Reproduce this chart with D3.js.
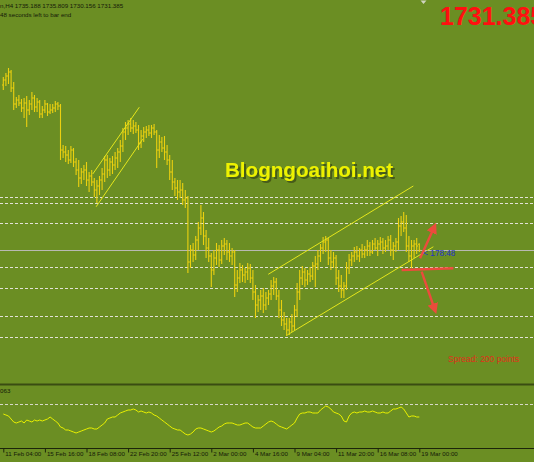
<!DOCTYPE html>
<html>
<head>
<meta charset="utf-8">
<script src="https://cdn.jsdelivr.net/npm/d3@7"></script>
<style>
  body { margin: 0; background: #6b8e23; overflow: hidden; }
  svg { display: block; }
</style>
</head>
<body>
<div id="chart"></div>
<script>
// XAUUSD H4 bars, index 0 = 11 Feb 04:00
const barOpen = [1838.75,1842,1844.6,1847.2,1836.8,1826.4,1829,1827.05,1823.8,1827.05,1822.5,1826.4,1830.3,1824.45,1827.7,1819.9,1822.5,1826.4,1821.2,1822.5,
  1823.8,1826.4,1825.1,1796.5,1795.2,1793.25,1790,1796.5,1788.7,1783.5,1778.3,1782.2,1783.5,1777,1779.6,1775.7,1770.5,1773.1,1777,1780.9,
  1790,1783.5,1788.7,1786.75,1791.3,1795.2,1799.1,1808.2,1810.8,1813.4,1810.8,1812.1,1809.5,1801.05,1805.6,1808.2,1809.5,1807.55,1810.8,1808.2,
  1796.5,1801.7,1797.8,1795.2,1790,1782.2,1775.7,1771.8,1769.2,1770.5,1764,1765.3,1723.7,1731.5,1728.25,1738,1745.8,1752.3,1740.6,1732.8,
  1727.6,1718.5,1726.3,1731.5,1725,1734.1,1735.4,1730.2,1727.6,1730.2,1708.75,1713.3,1718.5,1715.25,1717.2,1719.8,1713.3,1704.2,1695.75,1699,
  1701.6,1695.75,1700.3,1702.9,1708.1,1710.7,1701.6,1692.5,1686,1683.4,1679.5,1684.7,1682.1,1692.5,1704.2,1713.3,1717.2,1712,1715.9,1714.6,
  1721.1,1722.4,1727.6,1732.8,1736.7,1738,1726.3,1723.7,1726.3,1713.3,1708.1,1705.5,1708.1,1719.8,1725,1727.6,1730.2,1727.6,1731.5,1728.9,
  1731.5,1734.1,1730.2,1735.4,1732.8,1735.4,1736.7,1732.8,1734.1,1738,1731.5,1734.1,1736.7,1747.1,1749.7,1745.8,1734.1,1727.6,1734.1,1735.4,
  1735.19]
const barHigh = [1843.95,1846.55,1849.8,1848.5,1840.7,1830.95,1832.25,1829.65,1830.3,1831.6,1829,1834.2,1832.25,1830.3,1829,1825.1,1829,1827.05,1826.4,1826.4,
  1828.35,1827.7,1826.4,1799.75,1799.1,1796.5,1799.1,1797.8,1791.3,1790,1784.8,1786.75,1788.7,1782.2,1783.5,1778.3,1777,1779.6,1784.8,1792.6,
  1793.25,1791.3,1792.6,1795.2,1797.8,1803,1810.8,1814.7,1816,1817.3,1816,1814.7,1812.75,1809.5,1811.45,1812.1,1812.75,1812.75,1813.4,1809.5,
  1806.25,1804.95,1805.6,1799.75,1793.25,1790,1778.3,1777,1777,1775.05,1770.5,1766.6,1734.75,1736.05,1740.6,1749.7,1760.75,1756.2,1744.5,1739.3,
  1729.55,1731.5,1736.05,1734.75,1738,1739.3,1738,1736.05,1732.8,1731.5,1718.5,1723.05,1721.75,1719.8,1723.05,1722.4,1718.5,1708.75,1702.25,1705.5,
  1706.8,1704.2,1705.5,1712,1713.95,1713.3,1705.5,1699,1691.2,1687.3,1687.3,1689.9,1695.75,1710.05,1718.5,1721.1,1719.8,1718.5,1720.45,1723.7,
  1727.6,1731.5,1735.4,1739.95,1740.6,1739.3,1731.5,1730.2,1728.25,1718.5,1715.25,1710.7,1723.7,1728.9,1730.2,1733.45,1734.1,1732.8,1735.4,1734.1,
  1738,1736.7,1738,1739.3,1738,1739.95,1739.3,1738,1740.6,1741.25,1736.7,1739.3,1752.3,1753.6,1756.2,1754.25,1740.6,1738,1738,1739.3,
  1735.81]
const barLow = [1835.5,1838.1,1839.4,1834.2,1822.5,1823.8,1825.1,1821.2,1817.3,1811.45,1819.25,1822.5,1821.2,1821.2,1817.3,1817.3,1820.55,1818.6,1819.9,1820.55,
  1821.2,1822.5,1790,1791.3,1788.7,1787.4,1788.05,1785.45,1780.25,1772.45,1774.4,1777,1773.1,1769.2,1773.1,1765.95,1762.05,1767.25,1770.5,1775.7,
  1778.3,1779.6,1780.9,1783.5,1784.8,1788.7,1795.2,1803,1806.25,1808.2,1806.9,1807.55,1796.5,1797.8,1801.7,1804.3,1805.6,1804.3,1806.25,1784.8,
  1791.3,1795.2,1790,1786.75,1777,1770.5,1766.6,1764,1765.3,1760.75,1758.8,1716.55,1719.8,1723.7,1725,1731.5,1741.25,1734.75,1726.3,1723.7,
  1707.45,1715.25,1721.75,1720.45,1722.4,1728.25,1725,1723.7,1721.75,1700.95,1704.2,1710.05,1710.7,1710.05,1712,1710.05,1699,1687.3,1691.2,1692.5,
  1690.55,1692.5,1695.75,1699,1702.25,1699,1687.3,1682.1,1679.5,1675.6,1676.25,1678.2,1679.5,1687.95,1699,1708.75,1707.45,1708.75,1710.7,1712,
  1707.45,1718.5,1723.7,1728.9,1730.2,1721.75,1718.5,1719.8,1708.75,1704.2,1700.3,1700.3,1705.5,1715.9,1721.1,1723.7,1725,1723.7,1726.3,1726.3,
  1727.6,1727.6,1728.9,1731.5,1727.6,1731.5,1728.9,1730.2,1731.5,1727.6,1725,1730.2,1731.5,1740.6,1743.2,1730.2,1723.7,1719.8,1726.3,1728.9,
  1730.16]
const barClose = [1842,1844.6,1847.2,1836.8,1826.4,1829,1827.05,1823.8,1827.05,1822.5,1826.4,1830.3,1824.45,1827.7,1819.9,1822.5,1826.4,1821.2,1822.5,1823.8,
  1826.4,1825.1,1796.5,1795.2,1793.25,1790,1796.5,1788.7,1783.5,1778.3,1782.2,1783.5,1777,1779.6,1775.7,1770.5,1773.1,1777,1780.9,1790,
  1783.5,1788.7,1786.75,1791.3,1795.2,1799.1,1808.2,1810.8,1813.4,1810.8,1812.1,1809.5,1801.05,1805.6,1808.2,1809.5,1807.55,1810.8,1808.2,1796.5,
  1801.7,1797.8,1795.2,1790,1782.2,1775.7,1771.8,1769.2,1770.5,1764,1765.3,1723.7,1731.5,1728.25,1738,1745.8,1752.3,1740.6,1732.8,1727.6,
  1718.5,1726.3,1731.5,1725,1734.1,1735.4,1730.2,1727.6,1730.2,1708.75,1713.3,1718.5,1715.25,1717.2,1719.8,1713.3,1704.2,1695.75,1699,1701.6,
  1695.75,1700.3,1702.9,1708.1,1710.7,1701.6,1692.5,1686,1683.4,1679.5,1684.7,1682.1,1692.5,1704.2,1713.3,1717.2,1712,1715.9,1714.6,1721.1,
  1722.4,1727.6,1732.8,1736.7,1738,1726.3,1723.7,1726.3,1713.3,1708.1,1705.5,1708.1,1719.8,1725,1727.6,1730.2,1727.6,1731.5,1728.9,1731.5,
  1734.1,1730.2,1735.4,1732.8,1735.4,1736.7,1732.8,1734.1,1738,1731.5,1734.1,1736.7,1747.1,1749.7,1745.8,1734.1,1727.6,1734.1,1735.4,1734.1,
  1731.385]

// oscillator sub-window, one value per bar
const oscValues = [-0.10,-0.11,-0.12,-0.15,-0.18,-0.19,-0.18,-0.17,-0.19,-0.16,-0.17,-0.18,-0.16,-0.17,-0.16,-0.17,-0.16,-0.15,-0.13,-0.15,
  -0.17,-0.19,-0.23,-0.24,-0.26,-0.26,-0.27,-0.28,-0.29,-0.28,-0.27,-0.26,-0.25,-0.24,-0.24,-0.25,-0.25,-0.23,-0.21,-0.19,
  -0.15,-0.14,-0.13,-0.13,-0.11,-0.09,-0.08,-0.07,-0.06,-0.06,-0.05,-0.06,-0.08,-0.07,-0.08,-0.09,-0.08,-0.09,-0.11,-0.12,
  -0.14,-0.16,-0.18,-0.20,-0.22,-0.24,-0.25,-0.26,-0.26,-0.28,-0.30,-0.31,-0.30,-0.28,-0.25,-0.24,-0.24,-0.25,-0.26,-0.27,
  -0.28,-0.27,-0.25,-0.23,-0.22,-0.20,-0.19,-0.19,-0.19,-0.20,-0.21,-0.21,-0.20,-0.19,-0.19,-0.21,-0.23,-0.24,-0.24,-0.24,
  -0.22,-0.20,-0.18,-0.17,-0.18,-0.20,-0.22,-0.23,-0.24,-0.25,-0.23,-0.21,-0.19,-0.14,-0.10,-0.09,-0.09,-0.08,-0.08,-0.09,
  -0.09,-0.09,-0.06,-0.04,-0.02,-0.03,-0.05,-0.08,-0.09,-0.10,-0.12,-0.17,-0.18,-0.12,-0.09,-0.08,-0.09,-0.08,-0.08,-0.07,
  -0.08,-0.08,-0.07,-0.08,-0.09,-0.09,-0.08,-0.09,-0.09,-0.07,-0.05,-0.05,-0.04,-0.03,-0.05,-0.09,-0.13,-0.12,-0.12,-0.13,
  -0.13]

// time axis
const tickIdx = [0, 16, 32, 48, 64, 80, 96, 112, 128, 144, 160]
const tickLabels = ["11 Feb 04:00", "15 Feb 16:00", "18 Feb 08:00", "22 Feb 20:00", "25 Feb 12:00", "2 Mar 00:00",
  "4 Mar 16:00", "9 Mar 04:00", "11 Mar 20:00", "16 Mar 08:00", "19 Mar 00:00"]

// horizontal levels drawn on the chart
const levelPrices = [1766.1, 1761.9, 1749.2, 1720.6, 1706.6, 1688.9, 1674.8]
const bidPrice = 1731.385

// trend channels: [barIndex1, price1, barIndex2, price2]
const channels = [
  [34.4, 1780.9, 52.3, 1824.3],
  [35.7, 1759.6, 53.6, 1803.5],
  [101.9, 1715.7, 157.7, 1773.1],
  [109.2, 1676.25, 165.4, 1733.6]
]
// red arrows drawn by hand
const arrows = [
  { from: [160.3, 1726.1], to: [165.8, 1746.6], head: true },
  { from: [153.2, 1718.5], to: [173.1, 1719.6], head: false },
  { from: [160.9, 1717.4], to: [166.0, 1692.5], head: true }
]

const width = 534
const height = 462
const mainBottom = 383

const svg = d3.select("#chart").append("svg").attr("width", width).attr("height", height)

svg.append("rect").attr("width", width).attr("height", height).attr("fill", "#6b8e23")

// scales
const x = d3.scaleLinear().domain([0, 160]).range([3.3, 419.3])
const y = d3.scaleLinear().domain([1648.3, 1894]).range([378, 0])
const yOsc = d3.scaleLinear().domain([-0.42, 0.18]).range([446, 386])

const defs = svg.append("defs")
defs.append("clipPath").attr("id", "mainClip").append("rect").attr("width", width).attr("height", mainBottom)
defs.append("filter").attr("id", "wmShadow").attr("x", "-5%").attr("y", "-20%").attr("width", "115%").attr("height", "150%")
  .append("feDropShadow").attr("dx", 2).attr("dy", 2).attr("stdDeviation", 0.6)
  .attr("flood-color", "#2a380a").attr("flood-opacity", 0.6)
defs.append("marker").attr("id", "redHead")
  .attr("viewBox", "0 0 10 10").attr("refX", 6).attr("refY", 5)
  .attr("markerWidth", 4.5).attr("markerHeight", 4.5).attr("orient", "auto")
  .append("path").attr("d", "M0,0L10,5L0,10z").attr("fill", "#ec4b3c")

const mainG = svg.append("g").attr("clip-path", "url(#mainClip)")

// level lines
mainG.selectAll(".level").data(levelPrices).enter().append("line")
  .attr("x1", 0).attr("x2", width)
  .attr("y1", d => Math.round(y(d)) + 0.5).attr("y2", d => Math.round(y(d)) + 0.5)
  .attr("stroke", "#e2e2d6").attr("stroke-width", 1).attr("stroke-dasharray", "3,2")

// bid line
mainG.append("line")
  .attr("x1", 0).attr("x2", width)
  .attr("y1", Math.round(y(bidPrice)) + 0.5).attr("y2", Math.round(y(bidPrice)) + 0.5)
  .attr("stroke", "#b9b9b2").attr("stroke-width", 1)

// watermark
mainG.append("text").attr("x", 225).attr("y", 177)
  .attr("font-family", "'Liberation Sans', Arial, sans-serif")
  .attr("font-weight", "bold").attr("font-size", 20.6)
  .attr("fill", "#eef200").attr("filter", "url(#wmShadow)")
  .text("Blogngoaihoi.net")

// bars
const bars = d3.range(barClose.length)
mainG.append("g").selectAll("path").data(bars).enter().append("path")
  .attr("d", i => {
    const cx = x(i)
    return `M${cx},${y(barHigh[i])}V${y(barLow[i])}` +
      `M${cx - 1.3},${y(barOpen[i])}H${cx}` +
      `M${cx},${y(barClose[i])}H${cx + 1.3}`
  })
  .attr("stroke", "#ecd010").attr("stroke-width", 1.1).attr("fill", "none")

// channels
mainG.selectAll(".chan").data(channels).enter().append("line")
  .attr("x1", d => x(d[0])).attr("y1", d => y(d[1]))
  .attr("x2", d => x(d[2])).attr("y2", d => y(d[3]))
  .attr("stroke", "#e4e61c").attr("stroke-width", 1)

// arrows
mainG.selectAll(".arrow").data(arrows).enter().append("line")
  .attr("x1", d => x(d.from[0])).attr("y1", d => y(d.from[1]))
  .attr("x2", d => x(d.to[0])).attr("y2", d => y(d.to[1]))
  .attr("stroke", "#ec4b3c").attr("stroke-width", 2.4)
  .attr("marker-end", d => d.head ? "url(#redHead)" : null)

// countdown next to the bid
mainG.append("text")
  .attr("x", x(160) + 4).attr("y", y(bidPrice) + 6)
  .attr("font-family", "'Liberation Sans', Arial, sans-serif").attr("font-size", 8.2)
  .attr("fill", "#2432c8").text("< 178:48")

// header texts
const txt = svg.append("g").attr("font-family", "'Liberation Sans', Arial, sans-serif")
txt.append("text").attr("x", 0).attr("y", 8.2).attr("font-size", 6.2).attr("fill", "#151a08")
  .text("n,H4  1735.188 1735.809 1730.156 1731.385")
txt.append("text").attr("x", 0).attr("y", 16.5).attr("font-size", 6.2).attr("fill", "#151a08")
  .text("48 seconds left to bar end")
txt.append("text").attr("x", 440).attr("y", 24.5).attr("font-size", 25).attr("font-weight", "bold")
  .attr("fill", "#ff1010").text(d3.format(".3f")(bidPrice))
txt.append("text").attr("x", 448).attr("y", 362).attr("font-size", 8.5).attr("fill", "#e0301a")
  .text("Spread: 200 points")

// shift marker on top
svg.append("path").attr("d", "M420.5,0.5H426.5L423.5,4z").attr("fill", "#d0d4c0")

// separator between windows
svg.append("line").attr("x1", 0).attr("x2", width).attr("y1", 384.5).attr("y2", 384.5)
  .attr("stroke", "#3a4c12").attr("stroke-width", 2)

// oscillator window
svg.append("text").attr("x", 0).attr("y", 393).attr("font-size", 6.2)
  .attr("font-family", "'Liberation Sans', Arial, sans-serif").attr("fill", "#151a08").text("063")

svg.append("line").attr("x1", 0).attr("x2", width)
  .attr("y1", Math.round(yOsc(0)) + 0.5).attr("y2", Math.round(yOsc(0)) + 0.5)
  .attr("stroke", "#d6d8c8").attr("stroke-width", 1).attr("stroke-dasharray", "3,2")

svg.append("path").datum(oscValues)
  .attr("d", d3.line().x((d, i) => x(i)).y(d => yOsc(d)))
  .attr("fill", "none").attr("stroke", "#e8f000").attr("stroke-width", 1)

// time axis
svg.append("line").attr("x1", 0).attr("x2", width).attr("y1", 448.5).attr("y2", 448.5)
  .attr("stroke", "#1c250a").attr("stroke-width", 1)

const xAxis = d3.axisBottom(x).tickValues(tickIdx).tickFormat((d, k) => tickLabels[k]).tickSize(4)
const xGroup = svg.append("g").attr("transform", "translate(0, 448.5)").call(xAxis)
xGroup.select(".domain").remove()
xGroup.selectAll(".tick line").attr("stroke", "#1c250a")
xGroup.selectAll(".tick text")
  .attr("text-anchor", "start").attr("x", 1.5).attr("y", 3.5)
  .attr("font-family", "'Liberation Sans', Arial, sans-serif").attr("font-size", 6.2)
  .attr("fill", "#151a08")
</script>
</body>
</html>
